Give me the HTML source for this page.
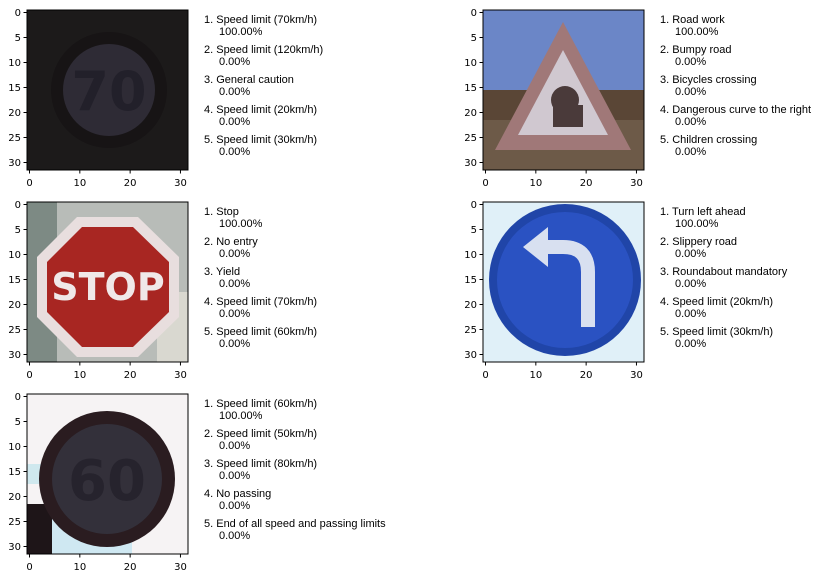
<!DOCTYPE html>
<html><head><meta charset="utf-8"><style>
body{margin:0;background:#fff;width:825px;height:578px;overflow:hidden;font-family:"Liberation Sans","DejaVu Sans",sans-serif}
svg text{font-family:"DejaVu Sans","Liberation Sans",sans-serif;font-size:10px;fill:#000}
svg text.lbl{font-family:"Liberation Sans","DejaVu Sans",sans-serif;font-size:11px}
</style></head><body>
<svg id="fig" width="825" height="578">
<defs>
<clipPath id="c1"><rect x="0" y="0" width="161" height="160"/></clipPath>
</defs>
</svg>
<script>
const panels=[
 {x:27,y:10,tx:204,labels:["Speed limit (70km/h)","Speed limit (120km/h)","General caution","Speed limit (20km/h)","Speed limit (30km/h)"],probs:["100.00%","0.00%","0.00%","0.00%","0.00%"],name:"sign-70"},
 {x:483,y:10,tx:660,labels:["Road work","Bumpy road","Bicycles crossing","Dangerous curve to the right","Children crossing"],probs:["100.00%","0.00%","0.00%","0.00%","0.00%"],name:"sign-roadwork"},
 {x:27,y:202,tx:204,labels:["Stop","No entry","Yield","Speed limit (70km/h)","Speed limit (60km/h)"],probs:["100.00%","0.00%","0.00%","0.00%","0.00%"],name:"sign-stop"},
 {x:483,y:202,tx:660,labels:["Turn left ahead","Slippery road","Roundabout mandatory","Speed limit (20km/h)","Speed limit (30km/h)"],probs:["100.00%","0.00%","0.00%","0.00%","0.00%"],name:"sign-turn-left"},
 {x:27,y:394,tx:204,labels:["Speed limit (60km/h)","Speed limit (50km/h)","Speed limit (80km/h)","No passing","End of all speed and passing limits"],probs:["100.00%","0.00%","0.00%","0.00%","0.00%"],name:"sign-60"}
];
const xTicks=[0,10,20,30];
const yTicks=[0,5,10,15,20,25,30];
const NS="http://www.w3.org/2000/svg";
const fig=document.getElementById('fig');
function mk(t,a,p){const e=document.createElementNS(NS,t);for(const k in a)e.setAttribute(k,a[k]);(p||fig).appendChild(e);return e;}
const art=[
`<rect width="161" height="160" fill="#1c1a1a"/><circle cx="82" cy="80" r="58" fill="#171415"/><circle cx="82" cy="80" r="46" fill="#2e2b35"/><text x="82" y="100" text-anchor="middle" style="font-size:54px;fill:#22202a;font-weight:bold">70</text>`,
`<rect width="161" height="160" fill="#6b86c7"/><rect y="80" width="161" height="80" fill="#5a4636"/><rect y="110" width="161" height="50" fill="#6d5a48"/><polygon points="80,12 148,140 12,140" fill="#a07878"/><polygon points="80,40 125,125 35,125" fill="#d0c8d0"/><circle cx="82" cy="90" r="14" fill="#4a3a3a"/><rect x="70" y="95" width="30" height="22" fill="#4a3a3a"/>`,
`<rect width="161" height="160" fill="#b8bcb8"/><rect x="0" y="0" width="30" height="160" fill="#7d8a84"/><rect x="130" y="90" width="31" height="70" fill="#d9d8d0"/><polygon points="50,15 111,15 152,55 152,115 111,155 50,155 10,115 10,55" fill="#e8dede"/><polygon points="55,25 106,25 142,60 142,110 106,145 55,145 20,110 20,60" fill="#a82622"/><text x="81" y="98" text-anchor="middle" style="font-size:38px;fill:#f0e8e8;font-weight:bold">STOP</text>`,
`<rect width="161" height="160" fill="#e0f0f8"/><circle cx="82" cy="78" r="76" fill="#2045a8"/><circle cx="82" cy="78" r="68" fill="#2a52c2"/><path d="M105 125 V70 Q105 45 80 45 H60" stroke="#d8e0f0" stroke-width="14" fill="none"/><polygon points="40,45 65,25 65,65" fill="#d8e0f0"/>`,
`<rect width="161" height="160" fill="#f6f3f4"/><rect y="110" width="25" height="50" fill="#1e1518"/><rect x="0" y="70" width="25" height="20" fill="#cfe8ee"/><rect x="25" y="125" width="80" height="35" fill="#cfe8f2"/><circle cx="80" cy="85" r="68" fill="#2a1c20"/><polygon points="80,20 90,30 70,30" fill="#2a1c20"/><circle cx="80" cy="85" r="55" fill="#33303a"/><text x="80" y="106" text-anchor="middle" style="font-size:56px;fill:#26232d;font-weight:bold">60</text>`
];
panels.forEach((p,i)=>{
  const g=mk('g',{transform:`translate(${p.x},${p.y})`});
  
  
  const img=mk('g',{'clip-path':'url(#c1)'},g);
  
  
  img.innerHTML=art[i];
  const fr=mk('rect',{x:0,y:0,width:161,height:160,fill:'none',stroke:'#000','stroke-width':1},g);
  
  
  const px=161/32, py=160/32;
  xTicks.forEach(v=>{
    const xx=(v+0.5)*px;
    mk('line',{x1:xx,x2:xx,y1:160,y2:163.5,stroke:'#000'},g);
    const t=mk('text',{x:xx,y:176,'text-anchor':'middle'},g);t.textContent=v;
    
    
  });
  yTicks.forEach(v=>{
    const yy=(v+0.5)*py;
    mk('line',{x1:-3.5,x2:0,y1:yy,y2:yy,stroke:'#000'},g);
    const t=mk('text',{x:-6,y:yy+3.5,'text-anchor':'end'},g);t.textContent=v;
    
    
  });
  p.labels.forEach((l,k)=>{
    const base=p.y+13+k*30;
    const t=mk('text',{x:p.tx,y:base,class:'lbl'});t.textContent=(k+1)+'. '+l;
    
    
    const t2=mk('text',{x:p.tx+15,y:base+12,class:'lbl'});t2.textContent=p.probs[k];
    
    
  });
});
</script>
</body></html>
